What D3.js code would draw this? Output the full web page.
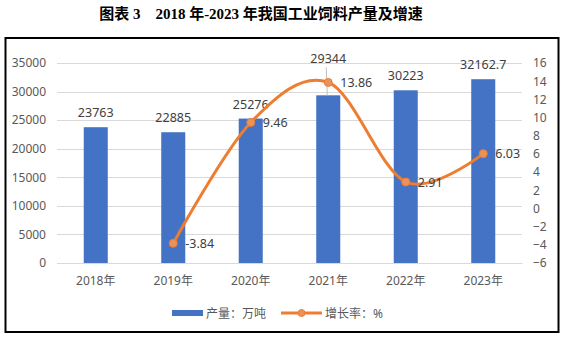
<!DOCTYPE html>
<html><head><meta charset="utf-8">
<script src="https://cdn.jsdelivr.net/npm/d3@7"></script>
<style>
html,body{margin:0;padding:0;background:#fff;}
svg{display:block;}
</style></head>
<body>
<svg id="chart" width="565" height="337"></svg>
<script>
const titleText = "图表 3\u00a0\u00a0\u00a0\u00a02018 年-2023 年我国工业饲料产量及增速";
const categories = ["2018年","2019年","2020年","2021年","2022年","2023年"];
const output = [23763, 22885, 25276, 29344, 30223, 32162.7];
const outputLabels = ["23763","22885","25276","29344","30223","32162.7"];
const growth = [null, -3.84, 9.46, 13.86, 2.91, 6.03];
const growthLabels = ["", "-3.84", "9.46", "13.86", "2.91", "6.03"];
const leftTicks = [0,5000,10000,15000,20000,25000,30000,35000];
const rightTicks = [-6,-4,-2,0,2,4,6,8,10,12,14,16];
const legendNames = ["产量：万吨", "增长率：%"];

const svg = d3.select("#chart");
const font = "'Noto Sans','Noto Sans CJK SC',sans-serif";
const barColor = "#4472C4", lineColor = "#ED7D31", textColor = "#404040", axisColor = "#595959";

// title
svg.append("text").attr("x", 261).attr("y", 19).attr("text-anchor","middle")
  .attr("font-family","'Liberation Serif','Noto Sans CJK SC',serif").attr("font-weight","bold")
  .attr("font-size", 15).attr("fill","#000").text(titleText);

// frame
svg.append("rect").attr("x",5.5).attr("y",38).attr("width",553).attr("height",294)
  .attr("fill","none").attr("stroke","#000").attr("stroke-width",2);

const x0 = 57, x1 = 522, yTop = 63, yBot = 263;
const x = d3.scaleBand().domain(categories).range([x0,x1]).paddingInner(0.69).paddingOuter(0.345);
const xc = d => x(d) + x.bandwidth()/2;
const yL = d3.scaleLinear().domain([0,35000]).range([yBot,yTop]);
const yR = d3.scaleLinear().domain([-6,16]).range([yBot,yTop]);

// gridlines
svg.append("g").selectAll("line").data(leftTicks).join("line")
  .attr("x1",x0).attr("x2",x1).attr("y1",d=>Math.round(yL(d))+0.5).attr("y2",d=>Math.round(yL(d))+0.5)
  .attr("stroke","#d9d9d9").attr("stroke-width",1);

// left axis
const gL = svg.append("g").attr("transform",`translate(46,0)`)
  .call(d3.axisLeft(yL).tickValues(leftTicks).tickSize(0).tickPadding(0).tickFormat(d3.format("d")));
gL.select(".domain").remove();
gL.selectAll("text").attr("font-family",font).attr("font-size",12).attr("fill",axisColor);

// right axis
const gR = svg.append("g").attr("transform",`translate(533,0)`)
  .call(d3.axisRight(yR).tickValues(rightTicks).tickSize(0).tickPadding(0));
gR.select(".domain").remove();
gR.selectAll("text").attr("font-family",font).attr("font-size",12).attr("fill",axisColor);

// bars
svg.append("g").selectAll("rect").data(output).join("rect")
  .attr("x",(d,i)=>x(categories[i])).attr("width",x.bandwidth())
  .attr("y",d=>yL(d)).attr("height",d=>yBot-yL(d)).attr("fill",barColor);

// x axis
const gX = svg.append("g").attr("transform",`translate(0,${yBot})`)
  .call(d3.axisBottom(x).tickSize(0).tickPadding(13));
gX.select(".domain").attr("stroke","#d9d9d9");
gX.selectAll("text").attr("font-family",font).attr("font-size",12).attr("fill",axisColor);

// bar labels
const labelOffsets = [0,0,0,22,0,0];
svg.append("g").selectAll("text").data(output).join("text")
  .attr("x",(d,i)=>xc(categories[i])).attr("y",(d,i)=>yL(d)-10-labelOffsets[i])
  .attr("text-anchor","middle").attr("font-family",font).attr("font-size",12.5).attr("fill",textColor)
  .text((d,i)=>outputLabels[i]);
// leader line for 2021 label
svg.append("line").attr("x1",xc(categories[3])-2).attr("x2",xc(categories[3])-1)
  .attr("y1",yL(output[3])-28).attr("y2",yL(output[3])).attr("stroke","#bfbfbf").attr("stroke-width",1);

// line
const pts = growth.map((g,i)=>({c:categories[i], v:g, l:growthLabels[i]})).filter(d=>d.v!==null);
const line = d3.line().x(d=>xc(d.c)).y(d=>yR(d.v)).curve(d3.curveCardinal.tension(0));
svg.append("path").datum(pts).attr("d",line).attr("fill","none")
  .attr("stroke",lineColor).attr("stroke-width",3).attr("stroke-linecap","round");
svg.append("g").selectAll("circle").data(pts).join("circle")
  .attr("cx",d=>xc(d.c)).attr("cy",d=>yR(d.v)).attr("r",4)
  .attr("fill","#E9925A").attr("stroke",lineColor).attr("stroke-width",1);
svg.append("g").selectAll("text").data(pts).join("text")
  .attr("x",d=>xc(d.c)+12).attr("y",d=>yR(d.v)+4.5)
  .attr("font-family",font).attr("font-size",12.5).attr("fill",textColor).text(d=>d.l);

// legend
const lg = svg.append("g");
lg.append("rect").attr("x",172).attr("y",310).attr("width",31).attr("height",6).attr("fill",barColor);
lg.append("text").attr("x",206).attr("y",317.5).attr("font-family",font).attr("font-size",12).attr("fill",axisColor).text(legendNames[0]);
lg.append("line").attr("x1",281).attr("x2",322).attr("y1",313).attr("y2",313).attr("stroke",lineColor).attr("stroke-width",3);
lg.append("circle").attr("cx",301.5).attr("cy",313).attr("r",3.5).attr("fill","#E9925A").attr("stroke",lineColor);
lg.append("text").attr("x",325).attr("y",317.5).attr("font-family",font).attr("font-size",12).attr("fill",axisColor).text(legendNames[1]);
</script>
</body></html>
